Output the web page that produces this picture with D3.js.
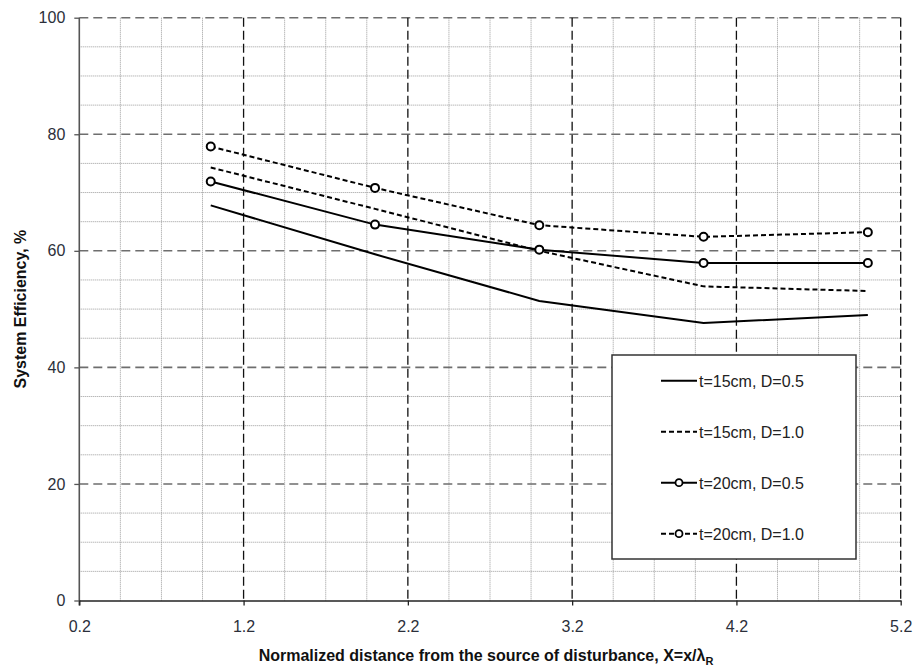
<!DOCTYPE html>
<html>
<head>
<meta charset="utf-8">
<script src="https://cdn.jsdelivr.net/npm/d3@7"></script>
<style>
  html, body { margin: 0; padding: 0; background: #fff; }
  svg { display: block; font-family: "Liberation Sans", Arial, sans-serif; }
</style>
</head>
<body>
<svg id="chart" width="915" height="667"></svg>
<script>
// ---- data ----
const xValues = [1, 2, 3, 4, 5];
const t15D05 = [67.8, 59.4, 51.4, 47.6, 49.0];
const t15D10 = [74.3, 67.2, 60.0, 53.9, 53.1];
const t20D05 = [71.9, 64.5, 60.2, 57.9, 57.9];
const t20D10 = [77.9, 70.8, 64.4, 62.4, 63.2];
const seriesNames = ["t=15cm, D=0.5", "t=15cm, D=1.0", "t=20cm, D=0.5", "t=20cm, D=1.0"];
const xTicks = [0.2, 1.2, 2.2, 3.2, 4.2, 5.2];
const yTicks = [0, 20, 40, 60, 80, 100];
const xTitle = "Normalized distance from the source of disturbance, X=x/λ";
const xTitleSub = "R";
const yTitle = "System Efficiency, %";

const series = [
  { name: seriesNames[0], values: t15D05, dash: null, marker: false },
  { name: seriesNames[1], values: t15D10, dash: "5,3", marker: false },
  { name: seriesNames[2], values: t20D05, dash: null, marker: true },
  { name: seriesNames[3], values: t20D10, dash: "5,3", marker: true }
];

// ---- layout ----
const svg = d3.select("#chart");
const L = 79.3, R = 900.7, T = 17.7, B = 600.5;
const x = d3.scaleLinear().domain([0.2, 5.2]).range([L, R]);
const y = d3.scaleLinear().domain([0, 100]).range([B, T]);

const g = svg.append("g");

// minor grid
const xMinor = d3.range(0, 21).map(i => 0.2 + i * 0.25).filter(v => !xTicks.some(t => Math.abs(t - v) < 1e-6));
const yMinor = d3.range(0, 101, 5).filter(v => v % 20 !== 0);
g.selectAll(".vminor").data(xMinor).enter().append("line")
  .attr("x1", d => x(d)).attr("x2", d => x(d)).attr("y1", T).attr("y2", B)
  .attr("stroke", "#9a9a9a").attr("stroke-width", 1).attr("stroke-dasharray", "1,1");
g.selectAll(".hminor").data(yMinor).enter().append("line")
  .attr("x1", L).attr("x2", R).attr("y1", d => y(d)).attr("y2", d => y(d))
  .attr("stroke", "#9a9a9a").attr("stroke-width", 1).attr("stroke-dasharray", "1,1");

// major grid
g.selectAll(".hmajor").data(yTicks.filter(v => v > 0)).enter().append("line")
  .attr("x1", L).attr("x2", R).attr("y1", d => y(d)).attr("y2", d => y(d))
  .attr("stroke", "#6e6e6e").attr("stroke-width", 1.6).attr("stroke-dasharray", "9,5");
g.selectAll(".vmajor").data(xTicks.filter(v => v > 0.2)).enter().append("line")
  .attr("x1", d => x(d)).attr("x2", d => x(d)).attr("y1", T).attr("y2", B)
  .attr("stroke", "#111").attr("stroke-width", 1.3).attr("stroke-dasharray", "9,4");

// axes
const yAxis = d3.axisLeft(y).tickValues(yTicks).tickSize(5).tickSizeOuter(0).tickPadding(9).tickFormat(d3.format("d"));
const yg = svg.append("g").attr("transform", `translate(${L},0)`).call(yAxis);
yg.select(".domain").attr("stroke", "#555").attr("stroke-width", 1.6).attr("d", `M0,${T}V${B + 5}`);
yg.selectAll(".tick line").attr("stroke", "#555").attr("stroke-width", 1.3);
yg.selectAll(".tick text").attr("font-size", 16).attr("fill", "#2b2f3a").attr("font-family", "Liberation Sans, Arial, sans-serif");

const xAxis = d3.axisBottom(x).tickValues(xTicks).tickSize(5).tickSizeOuter(0).tickPadding(15).tickFormat(d3.format(".1f"));
const xg = svg.append("g").attr("transform", `translate(0,${B})`).call(xAxis);
xg.select(".domain").attr("stroke", "#222").attr("stroke-width", 1.6);
xg.selectAll(".tick line").attr("stroke", "#222").attr("stroke-width", 1.3);
xg.selectAll(".tick text").attr("font-size", 16).attr("fill", "#2b2f3a").attr("font-family", "Liberation Sans, Arial, sans-serif");

// axis titles
const xt = svg.append("text").attr("x", (L + R) / 2 - 4).attr("y", 661)
  .attr("text-anchor", "middle").attr("font-size", 16).attr("font-weight", "bold").attr("fill", "#111");
xt.append("tspan").text(xTitle);
xt.append("tspan").attr("font-size", 11).attr("dy", 4).text(xTitleSub);

svg.append("text").attr("transform", `translate(26,${(T + B) / 2}) rotate(-90)`)
  .attr("text-anchor", "middle").attr("font-size", 16).attr("font-weight", "bold").attr("fill", "#111")
  .text(yTitle);

// lines
const line = d3.line().x((d, i) => x(xValues[i])).y(d => y(d));
const sg = svg.append("g");
series.forEach(s => {
  sg.append("path").datum(s.values).attr("d", line)
    .attr("fill", "none").attr("stroke", "#000").attr("stroke-width", 2)
    .attr("stroke-dasharray", s.dash);
  if (s.marker) {
    sg.selectAll(null).data(s.values).enter().append("circle")
      .attr("cx", (d, i) => x(xValues[i])).attr("cy", d => y(d)).attr("r", 4)
      .attr("fill", "#fff").attr("stroke", "#000").attr("stroke-width", 2);
  }
});

// legend
const lg = svg.append("g");
lg.append("rect").attr("x", 612).attr("y", 355).attr("width", 244).attr("height", 204)
  .attr("fill", "#fff").attr("stroke", "#333").attr("stroke-width", 1.5);
series.forEach((s, i) => {
  const cy = 380.7 + i * 51;
  lg.append("line").attr("x1", 661).attr("x2", 697).attr("y1", cy).attr("y2", cy)
    .attr("stroke", "#000").attr("stroke-width", 2).attr("stroke-dasharray", s.dash);
  if (s.marker) {
    lg.append("circle").attr("cx", 679).attr("cy", cy).attr("r", 3.5)
      .attr("fill", "#fff").attr("stroke", "#000").attr("stroke-width", 1.8);
  }
  lg.append("text").attr("x", 699).attr("y", cy + 5.8).attr("font-size", 16)
    .attr("fill", "#222").text(s.name);
});
</script>
</body>
</html>
